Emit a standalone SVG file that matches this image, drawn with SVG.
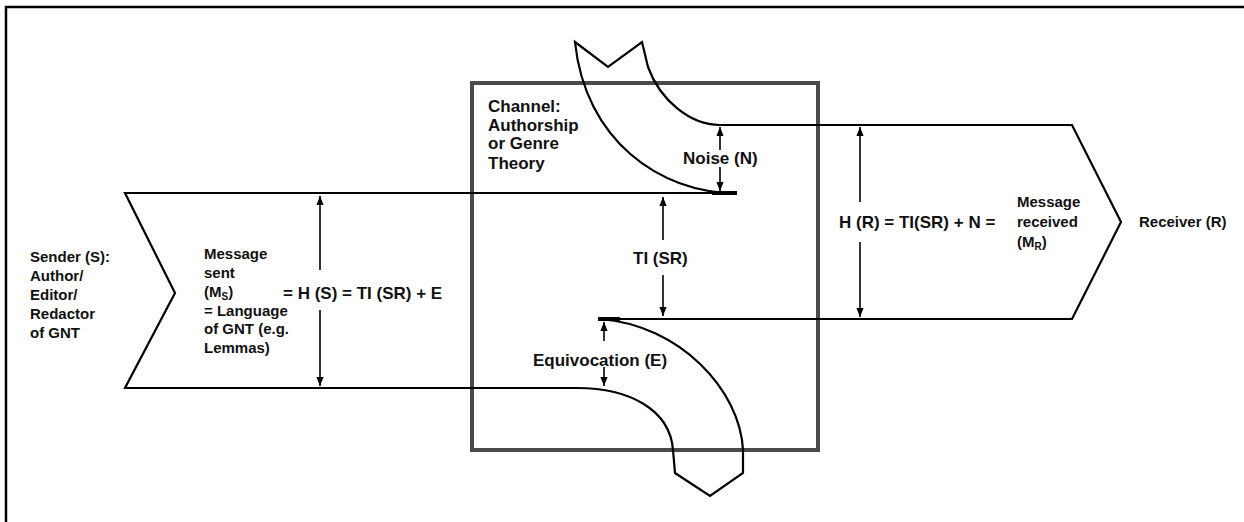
<svg xmlns="http://www.w3.org/2000/svg" width="1244" height="522" viewBox="0 0 1244 522">
<defs>
<marker id="ah" viewBox="0 0 10 8" refX="10" refY="4" markerWidth="9" markerHeight="7.5" markerUnits="userSpaceOnUse" orient="auto">
<path d="M0,0 L10,4 L0,8 Z" fill="#000"/>
</marker>
<style>
.t{font-family:"Liberation Sans",Arial,sans-serif;font-weight:bold;fill:#111;}
.s{font-size:15px;}
.m{font-size:17px;}
.band{fill:none;stroke:#000;stroke-width:2.2;stroke-linejoin:miter;}
.arr{stroke:#000;stroke-width:1.6;fill:none;marker-end:url(#ah);}
</style>
</defs>
<rect x="0" y="0" width="1244" height="522" fill="#fff"/>
<g id="frame">
<path d="M6,522 L6,7 L1244,7" fill="none" stroke="#000" stroke-width="2.5"/>
</g>
<g id="channel">
<rect x="472" y="83" width="346" height="367" fill="none" stroke="#4a4a4a" stroke-width="4"/>
<text class="t m" x="488" y="112">Channel:</text>
<text class="t m" x="488" y="131">Authorship</text>
<text class="t m" x="488" y="149">or Genre</text>
<text class="t m" x="488" y="169">Theory</text>
</g>
<g id="message-band">
<path class="band" d="M735,193 L125,193 L175,293 L125,388 L577,388 C630,388 670,410 673,450 L675,473 L710,496 L743,473 L743,450 C740,390 680,325 600,319 L1072,319 L1121,222 L1072,125 L720,125 C690,125 660,100 648,67 L642,42 L608,67 L575,42 C585,140 660,193 735,193 Z"/>
<path d="M712,193 L737,193" stroke="#000" stroke-width="4"/>
<path d="M598,319 L620,319" stroke="#000" stroke-width="4"/>
</g>
<g id="sender">
<text class="t s" x="30" y="262">Sender (S):</text>
<text class="t s" x="30" y="281">Author/</text>
<text class="t s" x="30" y="300">Editor/</text>
<text class="t s" x="30" y="319">Redactor</text>
<text class="t s" x="30" y="338">of GNT</text>
</g>
<g id="message-sent">
<text class="t s" x="204" y="259">Message</text>
<text class="t s" x="204" y="278">sent</text>
<text class="t s" x="204" y="297">(M<tspan font-size="10" dy="3">S</tspan><tspan dy="-3">)</tspan></text>
<text class="t s" x="204" y="316">= Language</text>
<text class="t s" x="204" y="334">of GNT (e.g.</text>
<text class="t s" x="204" y="353">Lemmas)</text>
<text class="t m" x="283" y="299">= H (S) = TI (SR) + E</text>
</g>
<g id="noise">
<text class="t m" x="683" y="164">Noise (N)</text>
</g>
<g id="ti">
<text class="t m" x="633" y="264">TI (SR)</text>
</g>
<g id="equivocation">
<text class="t m" x="533" y="366">Equivocation (E)</text>
</g>
<g id="message-received">
<text class="t m" x="839" y="228">H (R) = TI(SR) + N =</text>
<text class="t s" x="1017" y="207">Message</text>
<text class="t s" x="1017" y="227">received</text>
<text class="t s" x="1017" y="247">(M<tspan font-size="10" dy="3">R</tspan><tspan dy="-3">)</tspan></text>
</g>
<g id="receiver">
<text class="t s" x="1139" y="227">Receiver (R)</text>
</g>
<g id="connectors">
<path class="arr" d="M320,270 L320,196"/>
<path class="arr" d="M320,310 L320,386"/>
<path class="arr" d="M720,150 L720,127"/>
<path class="arr" d="M720,167 L720,191"/>
<path class="arr" d="M663,240 L663,197"/>
<path class="arr" d="M663,275 L663,316"/>
<path class="arr" d="M604,341 L604,322"/>
<path class="arr" d="M604,367 L604,386"/>
<path class="arr" d="M860,202 L860,127"/>
<path class="arr" d="M860,242 L860,317"/>
</g>
</svg>
